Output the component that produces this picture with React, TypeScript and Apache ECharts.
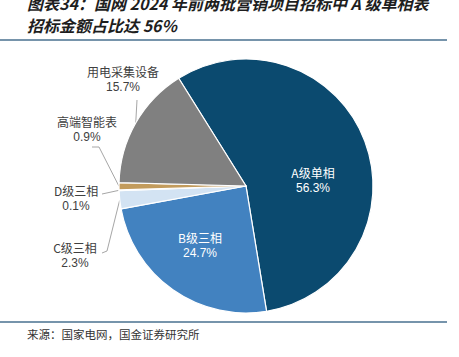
import React, { useEffect, useRef } from "react";
import * as echarts from "echarts";

const categories = ["A级单相", "B级三相", "C级三相", "D级三相", "高端智能表", "用电采集设备"];
const shares = [56.3, 24.7, 2.3, 0.1, 0.9, 15.7];
const colors = ["#0b4a6f", "#4282c0", "#d3e3f3", "#eeeeee", "#c29b5c", "#808080"];
const titleLines = ["图表34：国网 2024 年前两批营销项目招标中 A 级单相表", "招标金额占比达 56%"];
const sourceText = "来源：国家电网，国金证券研究所";

// label placement (pixel) for each category
const labelPos: Record<string, { x: number; y: number; elbow?: number[][] }> = {
  "A级单相": { x: 313, y: 180 },
  "B级三相": { x: 200, y: 245 },
  "C级三相": { x: 75, y: 255, elbow: [[107, 251], [102, 253]] },
  "D级三相": { x: 76, y: 198, elbow: [[102, 194]] },
  "高端智能表": { x: 87, y: 129, elbow: [[99, 147], [92, 147]] },
  "用电采集设备": { x: 123, y: 79, elbow: [[137, 100]] },
};

const inside = new Set(["A级单相", "B级三相"]);

export default function App() {
  const ref = useRef<HTMLDivElement>(null);
  useEffect(() => {
    if (!ref.current) return;
    const chart = echarts.init(ref.current, undefined, { renderer: "svg" });
    const cjk = "'Noto Sans CJK SC', sans-serif";
    const num = "'Liberation Sans', Arial, sans-serif";
    chart.setOption({
      animation: false,
      backgroundColor: "#ffffff",
      graphic: [
        {
          type: "text",
          left: 27,
          top: -5,
          style: {
            text: titleLines[0],
            font: `italic bold 16px ${cjk}`,
            fill: "#1e1e1e",
          },
        },
        {
          type: "text",
          left: 27,
          top: 17,
          style: {
            text: titleLines[1],
            font: `italic bold 16px ${cjk}`,
            fill: "#1e1e1e",
          },
        },
        {
          type: "line",
          shape: { x1: 0, y1: 40, x2: 447, y2: 40 },
          style: { stroke: "#48718f", lineWidth: 1.5 },
        },
        {
          type: "line",
          shape: { x1: 0, y1: 322, x2: 447, y2: 322 },
          style: { stroke: "#48718f", lineWidth: 1.5 },
        },
        {
          type: "text",
          left: 27,
          top: 328,
          style: {
            text: sourceText,
            font: `11.5px ${cjk}`,
            fill: "#333333",
          },
        },
      ],
      series: [
        {
          type: "pie",
          center: [246, 186],
          radius: 127,
          startAngle: 122,
          clockwise: true,
          avoidLabelOverlap: false,
          itemStyle: { borderColor: "#ffffff", borderWidth: 1.2 },
          labelLine: { show: true, lineStyle: { color: "#a6a6a6", width: 1 } },
          data: categories.map((name, i) => {
            const isIn = inside.has(name);
            return {
              name,
              value: shares[i],
              itemStyle: { color: colors[i] },
              label: {
                show: true,
                position: isIn ? "inside" : "outside",
                formatter: (p: any) => `{n|${p.name}}\n{v|${Number(p.value).toFixed(1)}%}`,
                rich: {
                  n: {
                    fontFamily: cjk,
                    fontSize: 12,
                    color: isIn ? "#ffffff" : "#404040",
                    lineHeight: 15,
                    align: "center",
                  },
                  v: {
                    fontFamily: num,
                    fontSize: 12,
                    color: isIn ? "#ffffff" : "#404040",
                    lineHeight: 15,
                    align: "center",
                  },
                },
              },
              labelLine: { show: !isIn },
            };
          }),
          labelLayout: (params: any) => {
            const name = categories[params.dataIndex];
            const pos = labelPos[name];
            const res: any = {
              x: pos.x,
              y: pos.y,
              align: "center",
              verticalAlign: "middle",
            };
            if (pos.elbow && params.labelLinePoints && params.labelLinePoints.length) {
              const start = params.labelLinePoints[0];
              res.labelLinePoints = [start, ...pos.elbow];
            }
            return res;
          },
        },
      ],
    });
    return () => chart.dispose();
  }, []);
  return <div ref={ref} style={{ width: 459, height: 357, position: "absolute", left: 0, top: 0 }} />;
}
